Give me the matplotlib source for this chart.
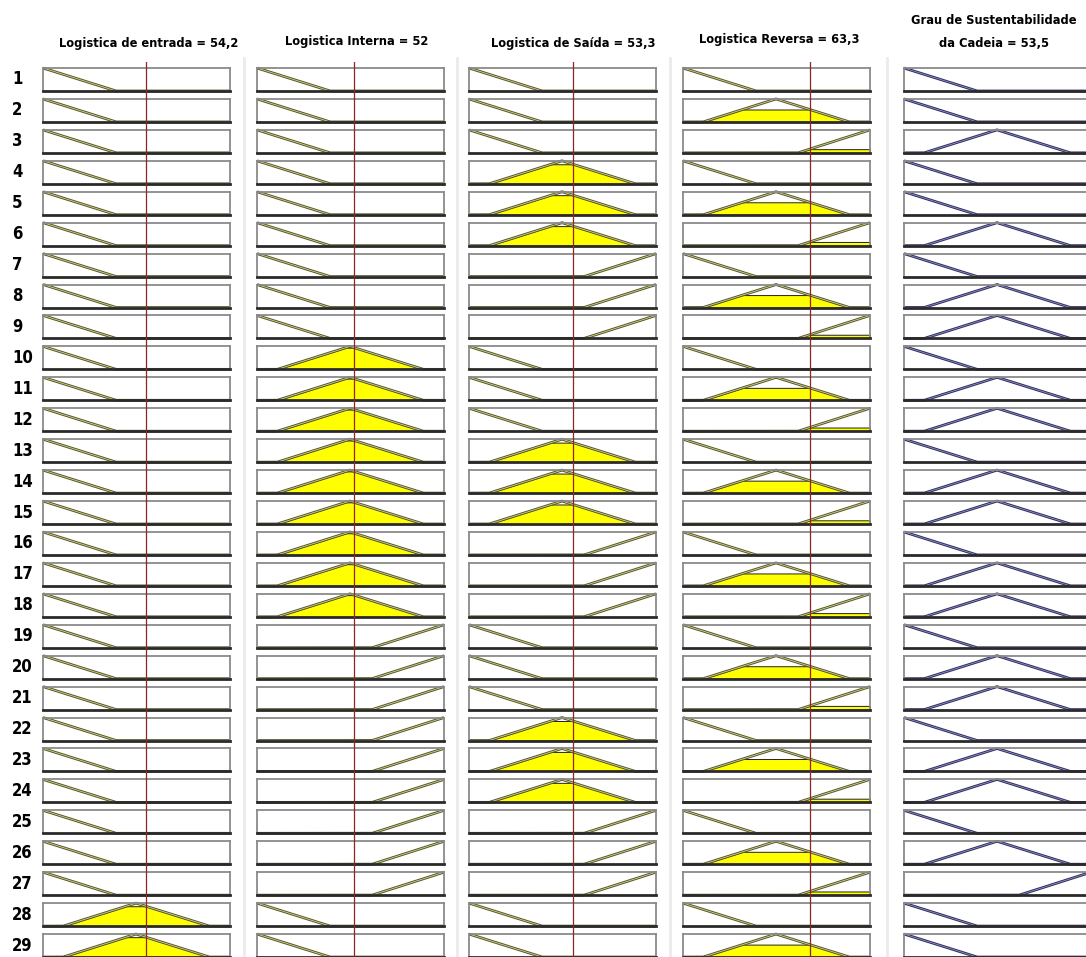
import matplotlib
matplotlib.use("Agg")
import matplotlib.pyplot as plt
import numpy as np
from matplotlib.lines import Line2D

W, H = 1086, 957

titles = ["Logistica de entrada = 54,2", "Logistica Interna = 52",
          "Logistica de Saída = 53,3", "Logistica Reversa = 63,3",
          "Grau de Sustentabilidade\nda Cadeia = 53,5"]

# membership function of each rule, per variable (B = baixo, M = medio, A = alto)
entrada = "BBBBBBBBBBBBBBBBBBBBBBBBBBBMM"
interna = "BBBBBBBBBMMMMMMMMMAAAAAAAAABB"
saida = "BBBMMMAAABBBMMMAAABBBMMMAAABB"
reversa = "BMABMABMABMABMABMABMABMABMABM"
grau = "BBMBBMBMMBMMBMMBMMBMMBMMBMABB"
columns = [entrada, interna, saida, reversa, grau]

# cursor position of each input (0-100 axis)
inputs = [55.0, 51.9, 55.6, 67.7]

# triangular MF parameters on the 0-100 axis
mf_params = {"B": (-39.0, 0.0, 39.0), "M": (10.8, 49.7, 88.9), "A": (61.5, 100.0, 138.5)}

# layout in pixels
col_left = [43, 257, 469, 683, 904]
box_w, box_h = 187, 23
row_top, row_pitch = 68, 30.93
title_pos = [(149, 44), (357, 42), (573, 44), (779, 40), (994, 32)]

FONT = ["DejaVu Sans"]


def trimf(x, a, b, c):
    return np.clip(np.minimum((x - a) / (b - a), (c - x) / (c - b)), 0, 1)


fig = plt.figure(figsize=(W / 100, H / 100), dpi=100)
fig.patch.set_facecolor("white")
grid = np.linspace(0, 100, 801)

# faint separators between the column panels
for c in range(1, 5):
    xs = (col_left[c - 1] + box_w + col_left[c]) / 2 / W
    fig.add_artist(Line2D([xs, xs], [0, 1 - 58 / H], transform=fig.transFigure,
                          color="#ebebeb", lw=2))

for c, rules in enumerate(columns):
    left = col_left[c] / W
    is_output = c == 4
    for r, mf in enumerate(rules):
        top = row_top + r * row_pitch
        ax = fig.add_axes([left, 1 - (top + box_h) / H, box_w / W, box_h / H])
        ax.set_xlim(0, 100)
        ax.set_ylim(0, 1)
        ax.set_xticks([])
        ax.set_yticks([])
        for side in ["top", "left", "right"]:
            ax.spines[side].set_color("#8a8a8a")
            ax.spines[side].set_linewidth(1.3)
        ax.spines["bottom"].set_color("#2a2a2a")
        ax.spines["bottom"].set_linewidth(2.0)

        y = trimf(grid, *mf_params[mf])
        if is_output:
            dark, light = "#2e2e5e", "#9090c8"
        else:
            dark, light = "#56562c", "#d4d48a"
        ax.plot(grid, y, color=dark, lw=2.0, clip_on=False, solid_capstyle="butt")
        ax.plot(grid, y, color=light, lw=0.6, clip_on=False)

        if not is_output:
            mu = trimf(np.array([inputs[c]]), *mf_params[mf])[0]
            if mu > 0:
                ax.fill_between(grid, 0, np.minimum(y, mu), where=y > 0,
                                facecolor="#ffff00", edgecolor="#1e1e1e", lw=0.7)

    if not is_output:
        ov = fig.add_axes([left, 0, box_w / W, 1 - 62 / H])
        ov.set_xlim(0, 100)
        ov.axis("off")
        ov.patch.set_alpha(0)
        ov.axvline(inputs[c], color="#8e2424", lw=0.9)

    tx, ty = title_pos[c]
    fig.text(tx / W, 1 - ty / H, titles[c], ha="center", va="center",
             fontsize=9.2, fontweight="bold", fontstretch="condensed",
             family=FONT, linespacing=2.0)

for r in range(len(entrada)):
    top = row_top + r * row_pitch
    fig.text(12 / W, 1 - (top + box_h / 2) / H, str(r + 1), ha="left", va="center",
             fontsize=12, fontweight="bold", fontstretch="condensed", family=FONT)

fig.savefig("out.png", dpi=100)
